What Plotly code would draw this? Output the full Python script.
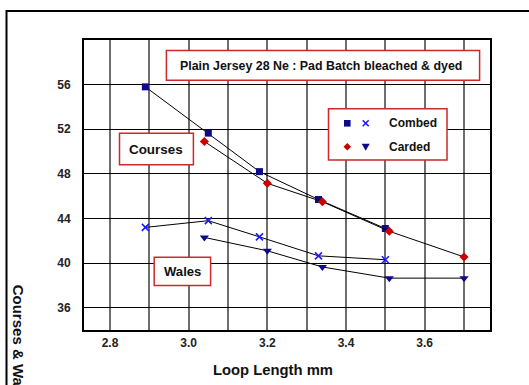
import plotly.graph_objects as go

# Loop length (mm) and fabric density for each yarn type
combed_loop = [2.89, 3.05, 3.18, 3.33, 3.50]
combed_courses = [55.8, 51.65, 48.2, 45.7, 43.1]
combed_wales = [43.2, 43.8, 42.35, 40.65, 40.3]

carded_loop = [3.04, 3.20, 3.34, 3.51, 3.70]
carded_courses = [50.9, 47.15, 45.5, 42.85, 40.55]
carded_wales = [42.3, 41.1, 39.65, 38.65, 38.65]

x_ticks = [2.8, 3.0, 3.2, 3.4, 3.6]
y_ticks = [36, 40, 44, 48, 52, 56]
X_RANGE = [2.734, 3.766]
Y_RANGE = [34, 60]

W, H = 529, 385
ML, MR, MT, MB = 84, 39, 40, 55
PW, PH = W - ML - MR, H - MT - MB

FONT = "Arial, Liberation Sans, sans-serif"
NAVY = "#0a0a8a"
RED = "#cc0000"
BLUE = "#1a1aff"
BOX = "#cc2a2a"


def px(x):
    return (x - ML) / PW


def py(y):
    return (H - MB - y) / PH


fig = go.Figure()

line = dict(color="black", width=1)
fig.add_trace(go.Scatter(x=combed_loop, y=combed_courses, mode="lines+markers", line=line,
                         marker=dict(symbol="square", size=7, color=NAVY), name="Combed courses"))
fig.add_trace(go.Scatter(x=carded_loop, y=carded_courses, mode="lines+markers", line=line,
                         marker=dict(symbol="diamond", size=7, color=RED), name="Carded courses"))
fig.add_trace(go.Scatter(x=combed_loop, y=combed_wales, mode="lines+markers", line=line,
                         marker=dict(symbol="x-thin", size=7, color=BLUE, line=dict(color=BLUE, width=1.6)),
                         name="Combed wales"))
fig.add_trace(go.Scatter(x=carded_loop, y=carded_wales, mode="lines+markers", line=line,
                         marker=dict(symbol="triangle-down", size=8, color=NAVY), name="Carded wales"))

shapes = [
    # outer frame running off the right and bottom edges
    dict(type="rect", xref="paper", yref="paper", x0=px(6.5), x1=px(560), y0=py(11), y1=py(420),
         line=dict(color="black", width=2), fillcolor="rgba(0,0,0,0)", layer="above"),
]
boxes = [
    (166.4, 50.6, 479.6, 80.3),
    (328.5, 108.7, 447.0, 160.0),
    (119.5, 133.3, 193.4, 164.7),
    (154.2, 257.2, 210.6, 285.5),
]
for x0, y0, x1, y1 in boxes:
    shapes.append(dict(type="rect", xref="paper", yref="paper", x0=px(x0), x1=px(x1), y0=py(y1), y1=py(y0),
                       line=dict(color=BOX, width=1.5), fillcolor="white", layer="above"))


def key_path(points):
    return "M " + " L ".join(f"{px(a)},{py(b)}" for a, b in points) + " Z"


# Key symbols drawn on top of the legend box
kx1, kx2, ky1, ky2 = 347.3, 365.7, 123.3, 146.7
shapes += [
    dict(type="path", xref="paper", yref="paper", layer="above", fillcolor=NAVY, line=dict(width=0),
         path=key_path([(kx1 - 3.3, ky1 - 3.3), (kx1 + 3.3, ky1 - 3.3), (kx1 + 3.3, ky1 + 3.3), (kx1 - 3.3, ky1 + 3.3)])),
    dict(type="path", xref="paper", yref="paper", layer="above", fillcolor=RED, line=dict(width=0),
         path=key_path([(kx1, ky2 - 3.8), (kx1 + 3.8, ky2), (kx1, ky2 + 3.8), (kx1 - 3.8, ky2)])),
    dict(type="path", xref="paper", yref="paper", layer="above", fillcolor=NAVY, line=dict(width=0),
         path=key_path([(kx2 - 4, ky2 - 3), (kx2 + 4, ky2 - 3), (kx2, ky2 + 4)])),
    dict(type="line", xref="paper", yref="paper", layer="above", line=dict(color=BLUE, width=1.6),
         x0=px(kx2 - 3), x1=px(kx2 + 3), y0=py(ky1 - 3), y1=py(ky1 + 3)),
    dict(type="line", xref="paper", yref="paper", layer="above", line=dict(color=BLUE, width=1.6),
         x0=px(kx2 - 3), x1=px(kx2 + 3), y0=py(ky1 + 3), y1=py(ky1 - 3)),
]

annotations = [
    dict(text="Plain Jersey 28 Ne : Pad Batch bleached & dyed", x=px(321), y=py(65.5),
         font=dict(size=12.4)),
    dict(text="Combed", x=px(386.5), y=py(123.3), xanchor="left", font=dict(size=12)),
    dict(text="Carded", x=px(386.5), y=py(146.7), xanchor="left", font=dict(size=12)),
    dict(text="Courses", x=px(156), y=py(149), font=dict(size=13.4)),
    dict(text="Wales", x=px(182.4), y=py(271.3), font=dict(size=13.1)),
    dict(text="Loop Length mm", x=px(273), y=py(369.6), font=dict(size=14.8)),
    dict(text="Courses & Wales per cm", x=px(18.8), y=py(283), yanchor="top", textangle=90,
         font=dict(size=15)),
]
for a in annotations:
    a.setdefault("xanchor", "center")
    a.setdefault("yanchor", "middle")
    a.update(xref="paper", yref="paper", showarrow=False)
    a["font"].update(family=FONT, color="#111111", weight="bold")

fig.update_layout(
    width=W, height=H,
    margin=dict(l=ML, r=MR, t=MT, b=MB, pad=0),
    paper_bgcolor="white", plot_bgcolor="white",
    showlegend=False,
    shapes=shapes, annotations=annotations,
    xaxis=dict(range=X_RANGE, tickvals=x_ticks, ticktext=[f"{v:.1f}" for v in x_ticks],
               showgrid=True, gridcolor="#6e6e6e", gridwidth=1.5,
               minor=dict(dtick=0.1, tick0=2.8, showgrid=True, gridcolor="#6e6e6e", gridwidth=1.5),
               ticks="outside", ticklen=1, tickcolor="rgba(0,0,0,0)",
               tickfont=dict(family=FONT, size=12, color="#222222", weight="bold"),
               showline=True, mirror=True, linecolor="black", linewidth=2, zeroline=False),
    yaxis=dict(range=Y_RANGE, tickvals=y_ticks,
               showgrid=True, gridcolor="black", gridwidth=1,
               ticks="outside", ticklen=9, tickcolor="rgba(0,0,0,0)",
               tickfont=dict(family=FONT, size=12, color="#222222", weight="bold"),
               showline=True, mirror=True, linecolor="black", linewidth=2, zeroline=False),
)

fig.write_html("out.html")
